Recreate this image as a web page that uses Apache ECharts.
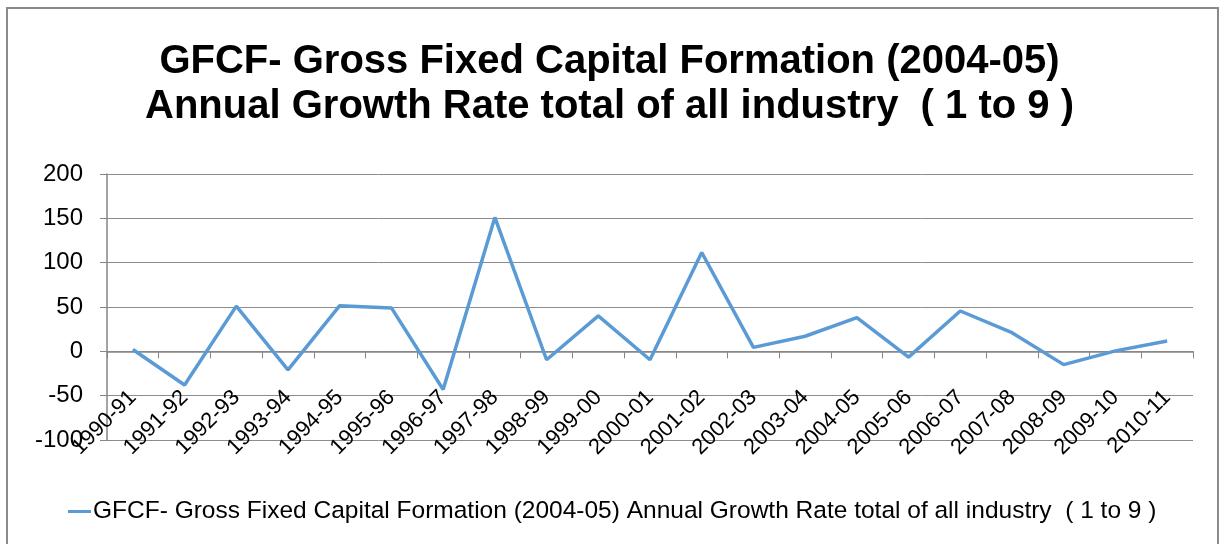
<!DOCTYPE html>
<html>
<head>
<meta charset="utf-8">
<script src="https://cdn.jsdelivr.net/npm/echarts@6/dist/echarts.min.js"></script>
<style>
html,body{margin:0;padding:0;background:#fff;}
#chart{width:1219px;height:544px;}
</style>
</head>
<body>
<div id="chart"></div>
<script>
const categories = ['1990-91','1991-92','1992-93','1993-94','1994-95','1995-96','1996-97','1997-98','1998-99','1999-00','2000-01','2001-02','2002-03','2003-04','2004-05','2005-06','2006-07','2007-08','2008-09','2009-10','2010-11'];
const growthRate = [2, -38, 51, -21, 51.5, 49, -43, 151, -9.5, 40, -9.5, 111.5, 4.5, 17, 38, -6.5, 45.5, 21, -15, 0.5, 11.6];
const yTicks = { min: -100, max: 200, interval: 50 };
const seriesName = 'GFCF- Gross Fixed Capital Formation (2004-05) Annual Growth Rate total of all industry  ( 1 to 9 )';
const titleText = 'GFCF- Gross Fixed Capital Formation (2004-05)\nAnnual Growth Rate total of all industry  ( 1 to 9 )';

const chart = echarts.init(document.getElementById('chart'));
const font = 'Liberation Sans, Arial, sans-serif';
chart.setOption({
  animation: false,
  graphic: [{
    type: 'rect', silent: true,
    shape: { x: 7, y: 8, width: 1211, height: 600 },
    style: { fill: 'none', stroke: '#8a8a8a', lineWidth: 2 }
  }],
  title: {
    text: titleText,
    left: 'center',
    top: 34,
    textStyle: { fontFamily: font, fontWeight: 'bold', fontSize: 40, lineHeight: 45, color: '#000' }
  },
  legend: {
    left: 68, top: 499, padding: 0,
    icon: 'rect', itemWidth: 23, itemHeight: 3,
    textStyle: { fontFamily: font, fontSize: 24.5, color: '#000', padding: [0, 0, 0, -3] },
    data: [seriesName]
  },
  grid: { left: 107, right: 26, top: 174, bottom: 104, containLabel: false },
  xAxis: {
    type: 'category',
    data: categories,
    boundaryGap: true,
    axisLine: { onZero: true, lineStyle: { color: '#868686', width: 1.5 } },
    axisTick: { show: true, interval: 0, length: 7, lineStyle: { color: '#868686' } },
    axisLabel: { interval: 0, rotate: 45, margin: -46, fontFamily: font, fontSize: 22, color: '#000' }
  },
  yAxis: {
    type: 'value',
    min: yTicks.min, max: yTicks.max, interval: yTicks.interval,
    axisLine: { show: true, lineStyle: { color: '#868686', width: 1.5 } },
    axisTick: { show: true, length: 7, lineStyle: { color: '#868686' } },
    axisLabel: { margin: 24, fontFamily: font, fontSize: 24, color: '#000' },
    splitLine: { show: true, lineStyle: { color: '#8c8c8c', width: 1 } }
  },
  series: [{
    name: seriesName,
    type: 'line',
    data: growthRate,
    showSymbol: false,
    symbol: 'none',
    lineStyle: { color: '#5b9bd5', width: 3.5 },
    itemStyle: { color: '#5b9bd5' }
  }]
});
</script>
</body>
</html>
